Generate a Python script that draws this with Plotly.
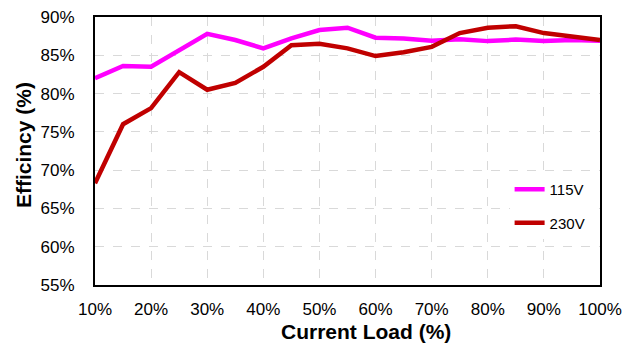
import plotly.graph_objects as go

load_pct = [10, 15, 20, 25, 30, 35, 40, 45, 50, 55, 60, 65, 70, 75, 80, 85, 90, 95, 100]
eff_115v = [82.0, 83.6, 83.5, 85.7, 87.8, 87.0, 85.9, 87.2, 88.3, 88.6, 87.3, 87.2, 86.9, 87.1, 86.85, 87.05, 86.85, 87.0, 86.9]
eff_230v = [68.3, 76.0, 78.1, 82.8, 80.5, 81.4, 83.5, 86.3, 86.5, 85.9, 84.9, 85.4, 86.1, 87.9, 88.6, 88.8, 87.9, 87.4, 87.0]
series_names = ["115V", "230V"]
x_ticks = [10, 20, 30, 40, 50, 60, 70, 80, 90, 100]
x_tick_labels = ["10%", "20%", "30%", "40%", "50%", "60%", "70%", "80%", "90%", "100%"]
y_ticks = [55, 60, 65, 70, 75, 80, 85, 90]
y_tick_labels = ["55%", "60%", "65%", "70%", "75%", "80%", "85%", "90%"]
x_title = "Current Load (%)"
y_title = "Efficincy (%)"

font_family = "Liberation Sans, Arial, sans-serif"

fig = go.Figure()
fig.add_trace(go.Scatter(x=load_pct, y=eff_115v, name=series_names[0], mode="lines",
                         line=dict(color="#FF00FF", width=4.5), legendgroup="a"))
fig.add_trace(go.Scatter(x=load_pct, y=eff_230v, name=series_names[1], mode="lines",
                         line=dict(color="#C00000", width=4.5), legendgroup="b"))

# page body has an 8px margin, so the figure is 8px smaller than the window
fig.update_layout(
    width=631, height=339,
    margin=dict(l=87, r=39, t=9, b=62, autoexpand=False),
    paper_bgcolor="white", plot_bgcolor="white",
    font=dict(family=font_family, color="black"),
    legend=dict(x=0.821, y=0.418, xanchor="left", yanchor="top",
                bgcolor="white", font=dict(size=15, family=font_family),
                tracegroupgap=11, itemwidth=30),
    annotations=[
        dict(text="<b>" + x_title + "</b>", xref="paper", yref="paper",
             x=0.537, y=-0.175, xanchor="center", yanchor="middle",
             showarrow=False, font=dict(size=21)),
        dict(text="<b>" + y_title + "</b>", xref="paper", yref="paper",
             x=-0.1426, y=0.522, xanchor="center", yanchor="middle",
             textangle=-90, showarrow=False, font=dict(size=21)),
    ],
)
fig.update_xaxes(
    range=[10, 100], tickvals=x_ticks, ticktext=x_tick_labels,
    showline=True, linecolor="black", linewidth=2, mirror=True,
    showgrid=True, gridcolor="#d9d9d9", griddash="dash", gridwidth=1,
    ticks="", tickfont=dict(size=17), ticklabelstandoff=8, automargin=False,
    ticklabeloverflow="allow", zeroline=False,
)
fig.update_yaxes(
    range=[55, 90], tickvals=y_ticks, ticktext=y_tick_labels,
    showline=True, linecolor="black", linewidth=2, mirror=True,
    showgrid=True, gridcolor="#d9d9d9", griddash="dash", gridwidth=1,
    ticks="outside", ticklen=15, tickcolor="rgba(0,0,0,0)",
    tickfont=dict(size=17), automargin=False, ticklabeloverflow="allow",
    zeroline=False,
)

fig.write_html("out.html")
